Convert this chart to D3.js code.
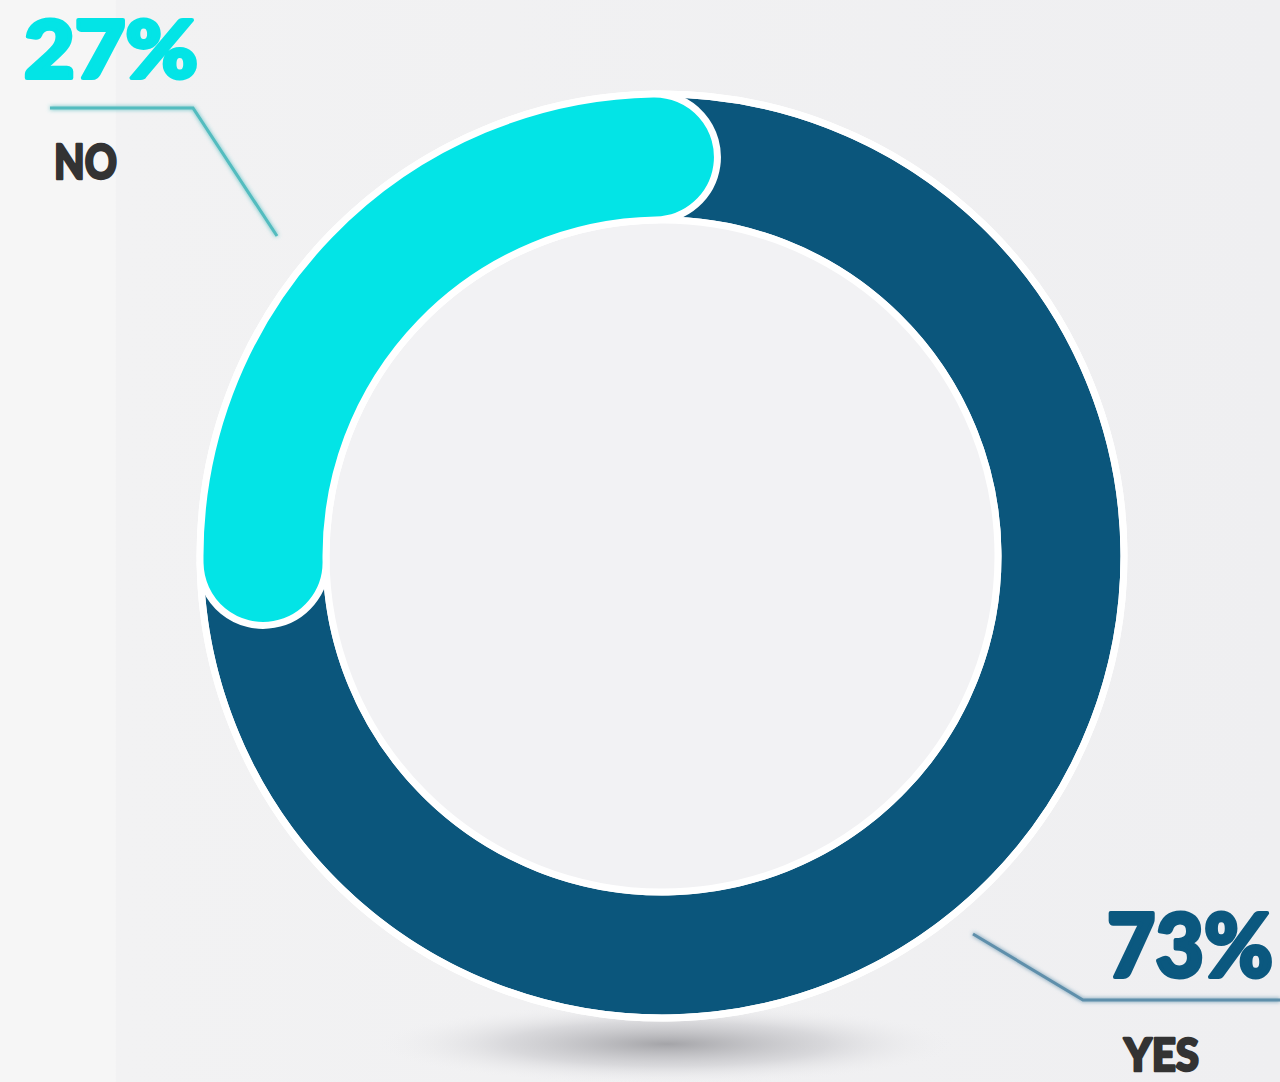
<!DOCTYPE html>
<html>
<head>
<meta charset="utf-8">
<script src="https://cdn.jsdelivr.net/npm/d3@7"></script>
<style>
html,body{margin:0;padding:0;overflow:hidden;background:#f2f2f3;}
svg{display:block;}
</style>
</head>
<body>
<svg id="chart" width="1280" height="1082"></svg>
<script>
// ---- data ----
const categories = ["NO", "YES"];
const values = [27, 73];
const valueLabels = ["27%", "73%"];
const colors = ["#03e4e6", "#0b567c"];
const labelColors = ["#03e4e6", "#0b587f"];

const W = 1280, H = 1082;
const cx = 662, cy = 556;
const outerR = 462, innerR = 336;
const capExt = 5.4 * Math.PI / 180;   // rounded cap overlap
const rot = -46 * Math.PI / 180;      // orientation of the ring

const svg = d3.select("#chart");
const defs = svg.append("defs");

// background gradient
const bg = defs.append("linearGradient").attr("id", "bg").attr("x1", 0).attr("x2", 1).attr("y1", 0).attr("y2", 0);
bg.append("stop").attr("offset", "0%").attr("stop-color", "#f6f6f6");
bg.append("stop").attr("offset", "9%").attr("stop-color", "#f6f6f6");
bg.append("stop").attr("offset", "9.1%").attr("stop-color", "#f2f2f3");
bg.append("stop").attr("offset", "100%").attr("stop-color", "#efeff1");
svg.append("rect").attr("width", W).attr("height", H).attr("fill", "url(#bg)");

// shadow
const sh = defs.append("radialGradient").attr("id", "shadow");
sh.append("stop").attr("offset", "0%").attr("stop-color", "#a0a0a4").attr("stop-opacity", 0.95);
sh.append("stop").attr("offset", "55%").attr("stop-color", "#c8c8cc").attr("stop-opacity", 0.6);
sh.append("stop").attr("offset", "100%").attr("stop-color", "#efeff1").attr("stop-opacity", 0);
svg.append("ellipse").attr("cx", cx + 5).attr("cy", 1044).attr("rx", 290).attr("ry", 40).attr("fill", "url(#shadow)");

// glow filter for leader lines
const glow = defs.append("filter").attr("id", "glow").attr("x", "-20%").attr("y", "-20%").attr("width", "140%").attr("height", "140%");
glow.append("feGaussianBlur").attr("in", "SourceGraphic").attr("stdDeviation", 2).attr("result", "b");
const fm = glow.append("feMerge");
fm.append("feMergeNode").attr("in", "b");
fm.append("feMergeNode").attr("in", "SourceGraphic");

const pie = d3.pie().sort(null).startAngle(rot - Math.PI * 0.27).endAngle(rot - Math.PI * 0.27 + 2 * Math.PI);
const arcs = pie(values);

const g = svg.append("g").attr("transform", `translate(${cx},${cy})`);

// YES ring (underneath, extended under the rounded caps)
const yes = arcs[1];
g.append("path")
  .attr("d", d3.arc().innerRadius(innerR).outerRadius(outerR)({startAngle: yes.startAngle - 0.06, endAngle: yes.endAngle + 0.06}))
  .attr("fill", colors[1])
  .attr("stroke", "#ffffff").attr("stroke-width", 7);
// white rim on full outer and inner circle
g.append("circle").attr("r", outerR).attr("fill", "none").attr("stroke", "#ffffff").attr("stroke-width", 7);
g.append("circle").attr("r", innerR).attr("fill", "#f2f2f4").attr("stroke", "#ffffff").attr("stroke-width", 7);

// NO arc with rounded caps
const no = arcs[0];
g.append("path")
  .attr("d", d3.arc().innerRadius(innerR).outerRadius(outerR).cornerRadius((outerR - innerR) / 2)
    ({startAngle: no.startAngle - capExt, endAngle: no.endAngle + capExt}))
  .attr("fill", colors[0])
  .attr("stroke", "#ffffff").attr("stroke-width", 7);

// leader lines
const lineNO = [[50, 108], [193, 108], [277, 236]];
const lineYES = [[973, 934], [1083, 1000], [1280, 1000]];
svg.append("path").attr("d", d3.line()(lineNO)).attr("fill", "none")
  .attr("stroke", "#52bcbf").attr("stroke-width", 3).attr("filter", "url(#glow)");
svg.append("path").attr("d", d3.line()(lineYES)).attr("fill", "none")
  .attr("stroke", "#5f8fab").attr("stroke-width", 3).attr("filter", "url(#glow)");

const font = "'Lato', 'Roboto', sans-serif";
function label(x, y, txt, size, color, sw, len) {
  svg.append("text").attr("x", x).attr("y", y).text(txt)
    .attr("font-family", font).attr("font-weight", 900).attr("font-size", size)
    .attr("fill", color).attr("stroke", color).attr("stroke-width", sw)
    .attr("stroke-linejoin", "round")
    .attr("textLength", len).attr("lengthAdjust", "spacingAndGlyphs");
}
// NO labels
label(24, 78, valueLabels[0], 80, labelColors[0], 4, 174);
label(54, 179, categories[0], 48, "#333333", 2.5, 63);
// YES labels
label(1107, 977, valueLabels[1], 87, labelColors[1], 4, 166);
label(1124, 1071, categories[1], 45, "#333333", 2.5, 75);
</script>
</body>
</html>
